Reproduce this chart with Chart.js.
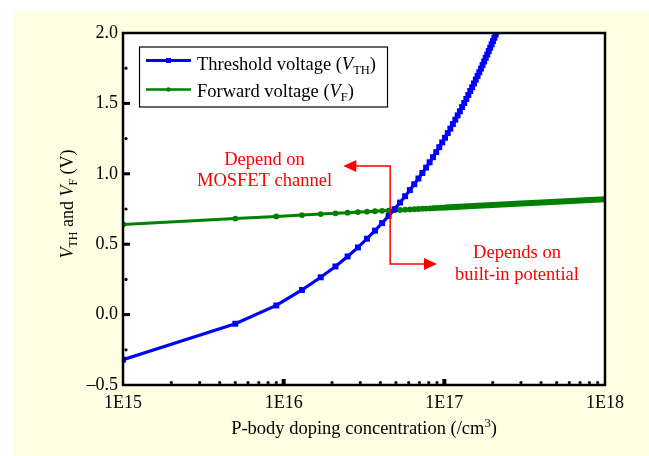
<!DOCTYPE html>
<html>
<head>
<meta charset="utf-8">
<script src="https://cdn.jsdelivr.net/npm/chart.js@4.4.1/dist/chart.umd.min.js"></script>
<style>
  html, body { margin: 0; padding: 0; background: #ffffff; }
  #wrap { width: 649px; height: 456px; }
</style>
</head>
<body>
<div id="wrap"><canvas id="myChart" width="649" height="456"></canvas></div>
<script>
// doping concentration (/cm3) and threshold voltage (V)
var nThreshold = [1e15, 5e15, 9e15, 1.3e16, 1.7e16, 2.1e16, 2.5e16, 2.9e16, 3.3e16, 3.7e16,
  4.1e16, 4.5e16, 4.9e16, 5.3e16, 5.7e16, 6.1e16, 6.5e16, 6.9e16, 7.3e16, 7.7e16,
  8.1e16, 8.5e16, 8.9e16, 9.3e16, 9.7e16, 1.01e17, 1.05e17, 1.09e17, 1.13e17, 1.17e17,
  1.21e17, 1.25e17, 1.29e17, 1.33e17, 1.37e17, 1.41e17, 1.45e17, 1.49e17, 1.53e17, 1.57e17,
  1.61e17, 1.65e17, 1.69e17, 1.73e17, 1.77e17, 1.81e17, 1.85e17, 1.89e17, 1.93e17, 1.97e17,
  2.01e17, 2.05e17, 2.09e17, 2.13e17];
var vthValues = [-0.32, -0.065, 0.065, 0.175, 0.265, 0.342, 0.413, 0.477, 0.539, 0.596,
  0.650, 0.701, 0.749, 0.796, 0.841, 0.884, 0.926, 0.967, 1.006, 1.044,
  1.082, 1.118, 1.154, 1.189, 1.223, 1.256, 1.289, 1.321, 1.353, 1.384,
  1.415, 1.444, 1.474, 1.503, 1.532, 1.560, 1.588, 1.615, 1.642, 1.669,
  1.695, 1.721, 1.747, 1.773, 1.798, 1.823, 1.847, 1.872, 1.896, 1.920,
  1.943, 1.966, 1.990, 2.012];

// doping concentration (/cm3) and forward voltage (V)
var nForward = [1e15, 5e15, 9e15, 1.3e16, 1.7e16, 2.1e16, 2.5e16, 2.9e16, 3.3e16, 3.7e16,
  4.1e16, 4.5e16, 4.9e16, 5.3e16, 5.7e16, 6.1e16, 6.5e16, 6.9e16, 7.3e16, 7.7e16,
  8.1e16, 8.5e16, 8.9e16, 9.3e16, 9.7e16, 1.01e17, 1.5e17, 2e17, 3e17, 5e17, 7e17, 1e18];
var vfValues = [0.640, 0.682, 0.697, 0.707, 0.714, 0.719, 0.724, 0.728, 0.731, 0.734,
  0.737, 0.739, 0.741, 0.743, 0.745, 0.747, 0.749, 0.750, 0.752, 0.753,
  0.754, 0.756, 0.757, 0.758, 0.759, 0.760, 0.771, 0.778, 0.789, 0.802, 0.811, 0.820];

var xTicks = [1e15, 1e16, 1e17, 1e18];
var xTickLabels = ["1E15", "1E16", "1E17", "1E18"];
var yTicks = [-0.5, 0, 0.5, 1.0, 1.5, 2.0];

var SERIF = '"Liberation Serif", "Times New Roman", serif';
var BLUE = "#0000ff";
var GREEN = "#008000";
var RED = "#ff0000";

function pts(xs, ys) {
  return xs.map(function (x, i) { return {x: x, y: ys[i]}; });
}

// draws text made of runs (normal / italic / subscript / superscript)
function drawRuns(ctx, runs, x, y, align) {
  var total = 0;
  runs.forEach(function (r) {
    ctx.font = (r.italic ? "italic " : "") + r.size + "px " + SERIF;
    r.w = ctx.measureText(r.t).width;
    total += r.w;
  });
  var cx = align === "center" ? x - total / 2 : x;
  ctx.textAlign = "left";
  ctx.textBaseline = "alphabetic";
  runs.forEach(function (r) {
    ctx.font = (r.italic ? "italic " : "") + r.size + "px " + SERIF;
    ctx.fillText(r.t, cx, y + (r.dy || 0));
    cx += r.w;
  });
}

var deco = {
  id: "deco",
  beforeDraw: function (chart) {
    var ctx = chart.ctx, a = chart.chartArea;
    ctx.save();
    ctx.fillStyle = "#ffffff";
    ctx.fillRect(0, 0, chart.width, chart.height);
    ctx.fillStyle = "#fefee3";
    ctx.fillRect(13, 11, chart.width - 13, chart.height - 11);
    ctx.fillStyle = "#ffffff";
    ctx.fillRect(a.left, a.top, a.right - a.left, a.bottom - a.top);
    ctx.restore();
  },
  afterDraw: function (chart) {
    var ctx = chart.ctx, a = chart.chartArea;
    var xs = chart.scales.x, ys = chart.scales.y;
    ctx.save();

    // frame
    ctx.strokeStyle = "#000";
    ctx.lineWidth = 2.5;
    ctx.strokeRect(a.left, a.top, a.right - a.left, a.bottom - a.top);

    // y ticks: inward lines + minor dots
    ctx.fillStyle = "#000";
    yTicks.forEach(function (v) {
      var py = ys.getPixelForValue(v);
      if (v > -0.5 && v < 2) ctx.fillRect(a.left, py - 1.5, 7, 3);
      if (v < 2) {
        var my = ys.getPixelForValue(v + 0.25);
        ctx.beginPath(); ctx.arc(a.left + 3, my, 1.6, 0, Math.PI * 2); ctx.fill();
      }
    });
    // x ticks: inward bumps + minor dots
    for (var d = 15; d < 18; d++) {
      for (var m = 2; m <= 9; m++) {
        var px = xs.getPixelForValue(m * Math.pow(10, d));
        ctx.beginPath(); ctx.arc(px, a.bottom - 2.5, 1.6, 0, Math.PI * 2); ctx.fill();
      }
    }
    [1e16, 1e17].forEach(function (v) {
      var px = xs.getPixelForValue(v);
      ctx.fillRect(px - 2, a.bottom - 6, 4, 6);
    });

    // annotations
    var vx = xs.getPixelForValue(4.6e16);
    var yTop = ys.getPixelForValue(1.055), yBot = ys.getPixelForValue(0.36);
    var tipL = xs.getPixelForValue(2.35e16), tipR = xs.getPixelForValue(9.0e16);
    ctx.strokeStyle = RED; ctx.fillStyle = RED; ctx.lineWidth = 1.5;
    ctx.beginPath();
    ctx.moveTo(tipL + 12, yTop); ctx.lineTo(vx, yTop); ctx.lineTo(vx, yBot); ctx.lineTo(tipR - 12, yBot);
    ctx.stroke();
    ctx.beginPath();
    ctx.moveTo(tipL, yTop); ctx.lineTo(tipL + 13, yTop - 6); ctx.lineTo(tipL + 13, yTop + 6); ctx.closePath(); ctx.fill();
    ctx.beginPath();
    ctx.moveTo(tipR, yBot); ctx.lineTo(tipR - 13, yBot - 6); ctx.lineTo(tipR - 13, yBot + 6); ctx.closePath(); ctx.fill();
    drawRuns(ctx, [{t: "Depend on", size: 18.5}], 264.5, 165, "center");
    drawRuns(ctx, [{t: "MOSFET channel", size: 18.5}], 264.5, 186, "center");
    drawRuns(ctx, [{t: "Depends on", size: 18.5}], 517, 258, "center");
    drawRuns(ctx, [{t: "built-in potential", size: 18.5}], 517, 280, "center");

    // legend
    ctx.fillStyle = "#fff";
    ctx.fillRect(139.5, 47, 248, 60);
    ctx.strokeStyle = "#000"; ctx.lineWidth = 1.2;
    ctx.strokeRect(139.5, 47, 248, 60);
    ctx.strokeStyle = BLUE; ctx.lineWidth = 3;
    ctx.beginPath(); ctx.moveTo(146, 60.5); ctx.lineTo(191, 60.5); ctx.stroke();
    ctx.fillStyle = BLUE; ctx.fillRect(166, 58, 5, 5);
    ctx.strokeStyle = GREEN; ctx.lineWidth = 2.5;
    ctx.beginPath(); ctx.moveTo(146, 89.5); ctx.lineTo(191, 89.5); ctx.stroke();
    ctx.fillStyle = GREEN; ctx.beginPath(); ctx.arc(168.5, 89.5, 2.2, 0, Math.PI * 2); ctx.fill();
    ctx.fillStyle = "#000";
    drawRuns(ctx, [{t: "Threshold voltage (", size: 18.5}, {t: "V", size: 18.5, italic: true},
      {t: "TH", size: 12.5, dy: 4}, {t: ")", size: 18.5}], 197, 70, "left");
    drawRuns(ctx, [{t: "Forward voltage (", size: 18.5}, {t: "V", size: 18.5, italic: true},
      {t: "F", size: 12.5, dy: 4}, {t: ")", size: 18.5}], 197, 97, "left");

    // axis titles
    drawRuns(ctx, [{t: "P-body doping concentration (/cm", size: 18.5}, {t: "3", size: 12.5, dy: -7},
      {t: ")", size: 18.5}], (a.left + a.right) / 2, 434, "center");
    ctx.translate(73, 204);
    ctx.rotate(-Math.PI / 2);
    drawRuns(ctx, [{t: "V", size: 18, italic: true}, {t: "TH", size: 12, dy: 4}, {t: " and ", size: 18},
      {t: "V", size: 18, italic: true}, {t: "F", size: 12, dy: 4}, {t: " (V)", size: 18}], 0, 0, "center");
    ctx.restore();
  }
};

new Chart("myChart", {
  type: "line",
  data: {
    datasets: [{
      label: "Threshold voltage (VTH)",
      data: pts(nThreshold, vthValues),
      borderColor: BLUE,
      backgroundColor: BLUE,
      borderWidth: 3.2,
      pointStyle: "rect",
      pointRadius: 4.2,
      pointBorderWidth: 0,
      tension: 0,
      clip: 0,
      order: 1
    }, {
      label: "Forward voltage (VF)",
      data: pts(nForward, vfValues),
      borderColor: GREEN,
      backgroundColor: GREEN,
      borderWidth: 3,
      pointRadius: function (c) { return c.raw && c.raw.x > 1.02e17 ? 0 : 2.9; },
      pointBorderWidth: 0,
      segment: {
        borderWidth: function (c) { return c.p0.parsed.x >= 1.0e17 ? 6 : 3; }
      },
      tension: 0,
      order: 2
    }]
  },
  plugins: [deco],
  options: {
    responsive: false,
    animation: false,
    events: [],
    layout: {padding: {top: 33, right: 44, left: 0, bottom: 0}},
    plugins: {legend: {display: false}, tooltip: {enabled: false}, title: {display: false}},
    scales: {
      x: {
        type: "logarithmic",
        min: 1e15,
        max: 1e18,
        afterBuildTicks: function (s) { s.ticks = xTicks.map(function (v) { return {value: v}; }); },
        afterFit: function (s) { s.height = 71; },
        grid: {display: false, drawTicks: false},
        border: {display: false},
        ticks: {
          autoSkip: false,
          maxRotation: 0,
          padding: 7,
          color: "#000",
          font: {family: SERIF, size: 18},
          callback: function (v, i) { return xTickLabels[i]; }
        }
      },
      y: {
        min: -0.5,
        max: 2.0,
        afterBuildTicks: function (s) { s.ticks = yTicks.map(function (v) { return {value: v}; }); },
        afterFit: function (s) { s.width = 123; },
        grid: {display: false, drawTicks: false},
        border: {display: false},
        ticks: {
          padding: 5,
          color: "#000",
          font: {family: SERIF, size: 18},
          callback: function (v) { return v < 0 ? "\u2013" + Math.abs(v).toFixed(1) : v.toFixed(1); }
        }
      }
    }
  }
});
</script>
</body>
</html>
